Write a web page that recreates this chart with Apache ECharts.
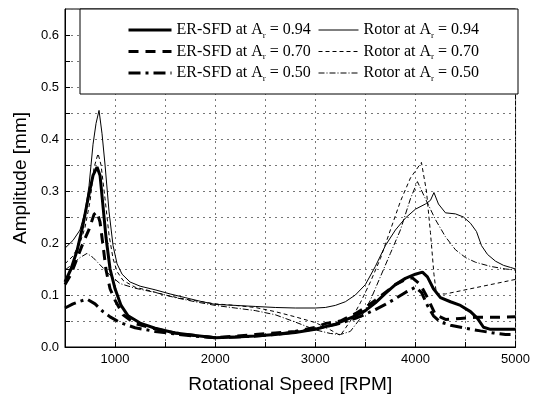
<!DOCTYPE html>
<html>
<head>
<meta charset="utf-8">
<script src="https://cdn.jsdelivr.net/npm/echarts@6/dist/echarts.min.js"></script>
<style>
html, body { margin: 0; padding: 0; background: #fff; }
#chart { width: 533px; height: 400px; }
</style>
</head>
<body>
<div id="chart"></div>
<script>
// series names
var names = [
    "ER-SFD at Ar = 0.94", "ER-SFD at Ar = 0.70", "ER-SFD at Ar = 0.50",
    "Rotor at Ar = 0.94", "Rotor at Ar = 0.70", "Rotor at Ar = 0.50"
];

// ER-SFD at Ar = 0.94
var erRpm94 = [500, 560, 620, 680, 730, 780, 820, 850, 880, 910, 950, 1000, 1060, 1130, 1250, 1400, 1600, 1800, 2000, 2200, 2400, 2600, 2800, 3000, 3200, 3400, 3500, 3600, 3700, 3800, 3900, 4000, 4070, 4120, 4180, 4250, 4350, 4450, 4550, 4620, 4680, 4750, 5000];
var erAmp94 = [0.125, 0.15, 0.185, 0.235, 0.285, 0.33, 0.346, 0.33, 0.27, 0.21, 0.15, 0.112, 0.08, 0.06, 0.046, 0.036, 0.027, 0.022, 0.018, 0.019, 0.021, 0.024, 0.028, 0.034, 0.044, 0.06, 0.07, 0.085, 0.103, 0.12, 0.132, 0.14, 0.144, 0.135, 0.112, 0.095, 0.087, 0.08, 0.068, 0.055, 0.038, 0.034, 0.034];

// ER-SFD at Ar = 0.70
var erRpm70 = [500, 560, 620, 680, 740, 790, 820, 850, 880, 910, 950, 1000, 1080, 1200, 1400, 1600, 1800, 2000, 2200, 2400, 2600, 2800, 3000, 3100, 3250, 3400, 3500, 3600, 3700, 3800, 3900, 3970, 4050, 4120, 4200, 4300, 4450, 4600, 4800, 5000];
var erAmp70 = [0.12, 0.14, 0.17, 0.2, 0.226, 0.255, 0.26, 0.24, 0.195, 0.148, 0.112, 0.09, 0.062, 0.045, 0.035, 0.027, 0.022, 0.018, 0.021, 0.024, 0.027, 0.03, 0.038, 0.045, 0.05, 0.064, 0.076, 0.09, 0.105, 0.12, 0.13, 0.133, 0.12, 0.095, 0.062, 0.053, 0.055, 0.057, 0.057, 0.058];

// ER-SFD at Ar = 0.50
var erRpm50 = [500, 580, 650, 720, 800, 880, 950, 1050, 1200, 1400, 1600, 1800, 2000, 2200, 2400, 2600, 2800, 3000, 3200, 3400, 3500, 3600, 3700, 3800, 3900, 4000, 4060, 4120, 4180, 4250, 4350, 4500, 4650, 4780, 4900, 4950];
var erAmp50 = [0.075, 0.083, 0.088, 0.092, 0.083, 0.068, 0.058, 0.047, 0.037, 0.03, 0.025, 0.021, 0.018, 0.019, 0.021, 0.024, 0.029, 0.035, 0.043, 0.055, 0.063, 0.072, 0.082, 0.093, 0.105, 0.115, 0.105, 0.08, 0.06, 0.048, 0.042, 0.036, 0.031, 0.027, 0.024, 0.024];

// Rotor at Ar = 0.94
var roRpm94 = [500, 580, 650, 700, 740, 780, 810, 840, 870, 900, 940, 980, 1020, 1070, 1150, 1250, 1400, 1550, 1700, 1850, 2000, 2200, 2400, 2600, 2800, 3000, 3100, 3200, 3300, 3400, 3500, 3600, 3700, 3800, 3900, 4000, 4100, 4150, 4185, 4230, 4300, 4400, 4480, 4550, 4610, 4660, 4720, 4800, 4880, 4950, 5000];
var roAmp94 = [0.19, 0.205, 0.225, 0.26, 0.31, 0.39, 0.43, 0.455, 0.41, 0.35, 0.26, 0.195, 0.16, 0.14, 0.125, 0.117, 0.11, 0.102, 0.095, 0.088, 0.082, 0.08, 0.078, 0.076, 0.075, 0.075, 0.076, 0.08, 0.087, 0.1, 0.12, 0.155, 0.195, 0.225, 0.248, 0.265, 0.275, 0.282, 0.297, 0.275, 0.258, 0.256, 0.25, 0.238, 0.222, 0.195, 0.178, 0.165, 0.157, 0.153, 0.15];

// Rotor at Ar = 0.70
var roRpm70 = [500, 580, 650, 700, 750, 790, 830, 860, 900, 940, 980, 1020, 1080, 1200, 1350, 1500, 1700, 2000, 2200, 2400, 2600, 2800, 3000, 3150, 3250, 3350, 3450, 3550, 3650, 3750, 3850, 3950, 4060, 4110, 4150, 4185, 4210, 4300, 4450, 4600, 4800, 5000];
var roAmp70 = [0.16, 0.175, 0.2, 0.23, 0.28, 0.345, 0.372, 0.35, 0.285, 0.215, 0.17, 0.145, 0.128, 0.115, 0.108, 0.1, 0.092, 0.083, 0.08, 0.076, 0.068, 0.058, 0.047, 0.033, 0.022, 0.05, 0.085, 0.125, 0.17, 0.225, 0.28, 0.325, 0.355, 0.3, 0.22, 0.14, 0.102, 0.102, 0.108, 0.114, 0.122, 0.13];

// Rotor at Ar = 0.50
var roRpm50 = [500, 580, 650, 720, 780, 850, 950, 1050, 1200, 1400, 1600, 1800, 2000, 2200, 2400, 2600, 2800, 3000, 3150, 3250, 3350, 3450, 3550, 3650, 3750, 3850, 3950, 4020, 4100, 4200, 4300, 4400, 4500, 4600, 4750, 4900, 5000];
var roAmp50 = [0.148, 0.16, 0.172, 0.18, 0.172, 0.158, 0.138, 0.122, 0.113, 0.105, 0.095, 0.087, 0.08, 0.075, 0.07, 0.062, 0.048, 0.033, 0.026, 0.024, 0.03, 0.055, 0.09, 0.135, 0.18, 0.225, 0.285, 0.318, 0.285, 0.245, 0.212, 0.187, 0.172, 0.163, 0.155, 0.15, 0.148];

var xTicks = [1000, 2000, 3000, 4000, 5000];

function zip(xs, ys) {
    return xs.map(function (x, i) { return [x, ys[i]]; });
}

var chart = echarts.init(document.getElementById('chart'));

var serif = 'Liberation Serif';
var sans = 'Liberation Sans';

function legendFmt(n) {
    var m = n.match(/^(.*A)r( = .*)$/);
    return '{t|' + m[1] + '}{s|r}{t|' + m[2] + '}';
}
var legendText = {
    rich: {
        t: {fontFamily: serif, fontSize: 16, color: '#000', lineHeight: 20},
        s: {fontFamily: serif, fontSize: 9, color: '#000', verticalAlign: 'bottom', lineHeight: 20}
    }
};

var gridLine = {show: true, lineStyle: {color: '#777', type: [2, 4], width: 1}};

function mk(i, data, width, type) {
    return {
        name: names[i],
        type: 'line',
        data: data,
        symbol: 'none',
        showSymbol: false,
        z: 2,
        lineStyle: {color: '#000', width: width, type: type},
        itemStyle: {color: '#000'}
    };
}

// legend entries: line sample only, no marker
function legendBlock(list, left, w, lw) {
    return {
        data: list, orient: 'vertical', left: left, top: 17,
        itemWidth: w, itemHeight: 14, itemGap: 3.5, itemTextGap: 4,
        itemStyle: {opacity: 0, borderWidth: 0},
        lineStyle: {width: lw},
        formatter: legendFmt, textStyle: legendText, z: 5
    };
}

chart.setOption({
    animation: false,
    grid: {left: 65, right: 15, top: 9, bottom: 53, show: true, borderColor: '#000', borderWidth: 1},
    xAxis: {
        type: 'value', min: 500, max: 5000, interval: 500,
        name: 'Rotational Speed [RPM]', nameLocation: 'middle', nameGap: 28,
        nameTextStyle: {fontFamily: sans, fontSize: 19, color: '#000'},
        axisLine: {show: true, lineStyle: {color: '#000'}},
        axisTick: {show: true, inside: true, length: 5, lineStyle: {color: '#000'}},
        axisLabel: {
            fontFamily: sans, fontSize: 13, color: '#000', margin: 6,
            formatter: function (v) { return xTicks.indexOf(v) >= 0 ? String(v) : ''; }
        },
        splitLine: gridLine
    },
    yAxis: {
        type: 'value', min: 0, max: 0.65, interval: 0.05,
        name: 'Amplitude [mm]', nameLocation: 'middle', nameGap: 33,
        nameTextStyle: {fontFamily: sans, fontSize: 19, color: '#000'},
        axisLine: {show: true, lineStyle: {color: '#000'}},
        axisTick: {show: true, inside: true, length: 5, lineStyle: {color: '#000'}},
        axisLabel: {
            fontFamily: sans, fontSize: 13, color: '#000', margin: 6, showMaxLabel: false,
            formatter: function (v) {
                var k = Math.round(v * 100);
                return (k % 10 === 0 && k <= 60) ? (k / 100).toFixed(1) : '';
            }
        },
        splitLine: gridLine
    },
    graphic: [{
        type: 'rect', z: 3,
        shape: {x: 80, y: 9, width: 438, height: 85},
        style: {fill: '#fff', stroke: '#000', lineWidth: 1}
    }],
    legend: [
        legendBlock(names.slice(0, 3), 122, 43, 3),
        legendBlock(names.slice(3), 313, 40, 1)
    ],
    series: [
        mk(0, zip(erRpm94, erAmp94), 3, 'solid'),
        mk(1, zip(erRpm70, erAmp70), 3, [10, 7]),
        mk(2, zip(erRpm50, erAmp50), 3, [12, 5, 3, 5]),
        mk(3, zip(roRpm94, roAmp94), 1, 'solid'),
        mk(4, zip(roRpm70, roAmp70), 1, [4, 3]),
        mk(5, zip(roRpm50, roAmp50), 1, [6, 2, 1, 2])
    ]
});
</script>
</body>
</html>
